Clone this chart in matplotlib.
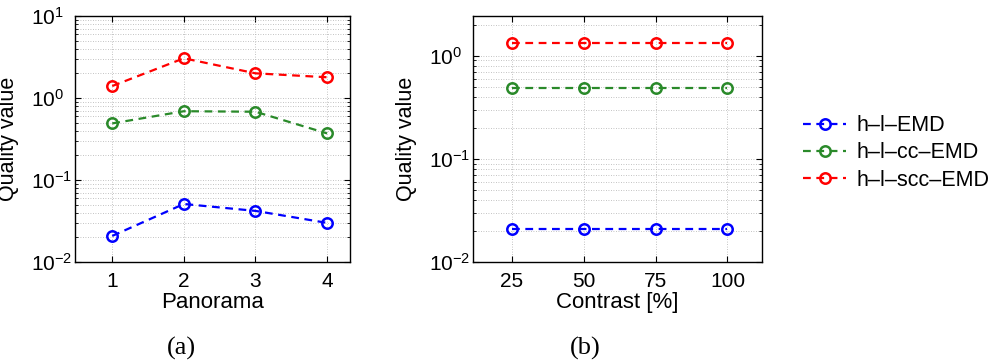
import matplotlib
matplotlib.use("Agg")
import matplotlib.pyplot as plt
from matplotlib.lines import Line2D

plt.rcParams['font.family'] = ['Liberation Sans', 'DejaVu Sans']
plt.rcParams['mathtext.fontset'] = 'custom'
plt.rcParams['mathtext.rm'] = 'Liberation Sans'
plt.rcParams['mathtext.it'] = 'Liberation Sans:italic'

# Data
series_names = ["h\u2013l\u2013EMD", "h\u2013l\u2013cc\u2013EMD", "h\u2013l\u2013scc\u2013EMD"]
series_colors = ["#0000ff", "#2a8a2a", "#ff0000"]

panorama = [1, 2, 3, 4]
pano_emd = [0.0208, 0.051, 0.042, 0.030]
pano_cc = [0.49, 0.69, 0.68, 0.37]
pano_scc = [1.40, 3.05, 2.00, 1.79]

contrast = [25, 50, 75, 100]
contr_emd = [0.021, 0.021, 0.021, 0.021]
contr_cc = [0.49, 0.49, 0.49, 0.49]
contr_scc = [1.34, 1.34, 1.34, 1.34]

fig = plt.figure(figsize=(10, 3.62), dpi=100)
W, H = 1000, 362
def ax_at(l, t, r, b):
    return fig.add_axes([l / W, 1 - b / H, (r - l) / W, (b - t) / H])

ax1 = ax_at(75, 16, 350, 262)
ax2 = ax_at(473, 16, 762, 262)

line_kw = dict(linestyle=(0, (3.5, 2.5)), linewidth=1.6, marker='o', markersize=7.5,
               markerfacecolor='none', markeredgewidth=1.8)

for ax, x, ys in [(ax1, panorama, [pano_emd, pano_cc, pano_scc]),
                  (ax2, contrast, [contr_emd, contr_cc, contr_scc])]:
    for y, c in zip(ys, series_colors):
        ax.plot(x, y, color=c, markeredgecolor=c, **line_kw)
    ax.set_yscale('log')
    ax.set_xticks(x)
    ax.grid(True, which='both', axis='both', linestyle=(0, (1, 2)), color='#b0b0b0', linewidth=0.6)
    ax.tick_params(which='both', direction='in', top=True, right=True, labelsize=15)
    ax.tick_params(which='major', length=4)
    ax.tick_params(which='minor', length=2)
    ax.tick_params(axis='x', pad=7)
    ax.tick_params(axis='y', pad=32)
    for s in ax.spines.values():
        s.set_linewidth(1.0)
    ax.set_ylabel('Quality value', fontsize=15.5, labelpad=8)

ax1.set_xlim(0.48, 4.32)
ax1.set_ylim(0.01, 10)
ax1.set_xlabel('Panorama', fontsize=16, labelpad=1)

ax2.set_xlim(11.5, 112)
ax2.set_ylim(0.01, 2.43)
ax2.set_xlabel('Contrast [%]', fontsize=16, labelpad=1)

for ax in (ax1, ax2):
    for lab in ax.get_yticklabels():
        lab.set_horizontalalignment('left')

fig.text(181 / W, 1 - 348 / H, '(a)', family=['Liberation Serif', 'DejaVu Serif'],
         fontsize=19, ha='center', va='center')
fig.text(585 / W, 1 - 348 / H, '(b)', family=['Liberation Serif', 'DejaVu Serif'],
         fontsize=19, ha='center', va='center')

handles = [Line2D([], [], color=c, markeredgecolor=c, **line_kw) for c in series_colors]
fig.legend(handles, series_names, loc='center left', bbox_to_anchor=(803 / W, 1 - 153 / H),
           frameon=False, fontsize=15.5, handlelength=2.0, handletextpad=0.5, labelspacing=0.3,
           borderaxespad=0, borderpad=0)

fig.savefig('out.png', dpi=100)
